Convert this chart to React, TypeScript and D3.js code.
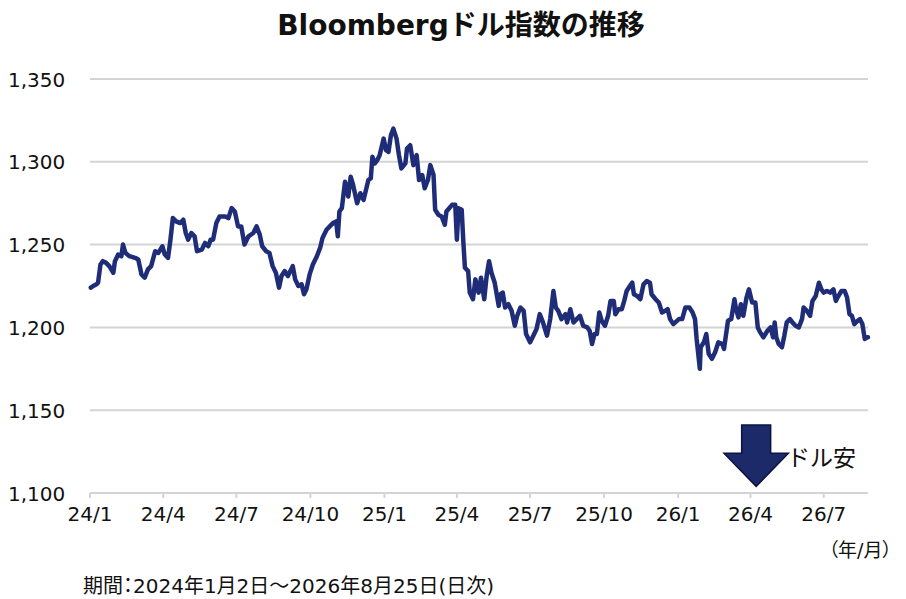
import React from "react";
import * as d3 from "d3";

const titleText = "Bloombergドル指数の推移";
const footnoteText = "期間：2024年1月2日～2026年8月25日(日次)";
const unitText = "（年/月）";
const arrowLabel = "ドル安";

const yTicks = [1100, 1150, 1200, 1250, 1300, 1350];
const xTickDates = ["2024-01-01","2024-04-01","2024-07-01","2024-10-01","2025-01-01","2025-04-01","2025-07-01","2025-10-01","2026-01-01","2026-04-01","2026-07-01"];
const xTickLabels = ["24/1","24/4","24/7","24/10","25/1","25/4","25/7","25/10","26/1","26/4","26/7"];
const xDomain = ["2024-01-01", "2026-08-25"];

const dates = [
"2024-01-02","2024-01-05","2024-01-09","2024-01-11","2024-01-14","2024-01-17","2024-01-21","2024-01-25","2024-01-30",
"2024-02-01","2024-02-05","2024-02-09","2024-02-11","2024-02-14","2024-02-19","2024-02-26",
"2024-03-01","2024-03-05","2024-03-09","2024-03-13","2024-03-17","2024-03-22","2024-03-26","2024-03-31",
"2024-04-03","2024-04-07","2024-04-10","2024-04-13","2024-04-17","2024-04-22","2024-04-26","2024-04-29",
"2024-05-02","2024-05-06","2024-05-10","2024-05-13","2024-05-19","2024-05-23","2024-05-27","2024-05-30",
"2024-06-02","2024-06-06","2024-06-10","2024-06-17","2024-06-21","2024-06-25","2024-06-29",
"2024-07-03","2024-07-07","2024-07-11","2024-07-16","2024-07-22","2024-07-26","2024-07-30",
"2024-08-02","2024-08-07","2024-08-11","2024-08-15","2024-08-19","2024-08-23","2024-08-26","2024-08-30",
"2024-09-03","2024-09-09","2024-09-12","2024-09-16","2024-09-20","2024-09-23","2024-09-26","2024-09-30",
"2024-10-04","2024-10-09","2024-10-13","2024-10-16","2024-10-21","2024-10-25","2024-10-29",
"2024-11-02","2024-11-04","2024-11-06","2024-11-09","2024-11-11","2024-11-13","2024-11-17","2024-11-20","2024-11-23","2024-11-28",
"2024-12-02","2024-12-06","2024-12-09","2024-12-12","2024-12-15","2024-12-17","2024-12-20","2024-12-23","2024-12-26","2024-12-31",
"2025-01-03","2025-01-06","2025-01-09","2025-01-12","2025-01-16","2025-01-19","2025-01-22","2025-01-27","2025-01-29",
"2025-02-02","2025-02-06","2025-02-10","2025-02-13","2025-02-17","2025-02-20","2025-02-24","2025-02-27",
"2025-03-03","2025-03-05","2025-03-09","2025-03-13","2025-03-17","2025-03-19","2025-03-26","2025-03-30",
"2025-04-01","2025-04-03","2025-04-07","2025-04-09","2025-04-11","2025-04-15","2025-04-17","2025-04-21","2025-04-24","2025-04-28",
"2025-05-01","2025-05-05","2025-05-08","2025-05-11","2025-05-14","2025-05-18","2025-05-23","2025-05-25","2025-05-28","2025-05-31",
"2025-06-04","2025-06-08","2025-06-12","2025-06-15","2025-06-19","2025-06-23","2025-06-26",
"2025-07-01","2025-07-05","2025-07-09","2025-07-13","2025-07-17","2025-07-22","2025-07-26","2025-07-30",
"2025-08-02","2025-08-05","2025-08-09","2025-08-14","2025-08-16","2025-08-20","2025-08-24","2025-08-28",
"2025-09-01","2025-09-05","2025-09-10","2025-09-13","2025-09-16","2025-09-19","2025-09-22","2025-09-25","2025-09-28",
"2025-10-02","2025-10-06","2025-10-09","2025-10-13","2025-10-15","2025-10-19","2025-10-23","2025-10-26","2025-10-29",
"2025-11-02","2025-11-05","2025-11-07","2025-11-11","2025-11-15","2025-11-19","2025-11-23","2025-11-27","2025-11-29",
"2025-12-04","2025-12-08","2025-12-12","2025-12-16","2025-12-19","2025-12-22","2025-12-26",
"2026-01-02","2026-01-06","2026-01-10","2026-01-15","2026-01-19","2026-01-22","2026-01-24","2026-01-28","2026-01-29",
"2026-02-02","2026-02-05","2026-02-08","2026-02-12","2026-02-16","2026-02-20","2026-02-25","2026-02-27",
"2026-03-04","2026-03-08","2026-03-12","2026-03-14","2026-03-17","2026-03-20","2026-03-23","2026-03-27","2026-03-30",
"2026-04-03","2026-04-07","2026-04-10","2026-04-13","2026-04-17","2026-04-22","2026-04-26","2026-04-29",
"2026-05-01","2026-05-03","2026-05-06","2026-05-10","2026-05-13","2026-05-16","2026-05-20","2026-05-23","2026-05-27","2026-05-31",
"2026-06-04","2026-06-06","2026-06-10","2026-06-14","2026-06-17","2026-06-21","2026-06-25","2026-06-28",
"2026-07-01","2026-07-05","2026-07-09","2026-07-13","2026-07-16","2026-07-18","2026-07-23","2026-07-27","2026-07-30",
"2026-08-02","2026-08-05","2026-08-08","2026-08-12","2026-08-15","2026-08-18","2026-08-21","2026-08-24","2026-08-25"
];

const values = [
1224,1225,1226,1227,1238,1240,1239,1237,1233,
1240,1244,1243,1250,1245,1243,1242,
1241,1232,1230,1235,1237,1246,1245,1249,
1244,1242,1253,1266,1264,1263,1265,1257,
1253,1257,1255,1246,1247,1251,1249,1253,
1253,1263,1267,1267,1266,1272,1270,
1261,1261,1250,1255,1257,1261,1256,
1249,1246,1245,1237,1233,1224,1231,1234,
1231,1237,1229,1225,1226,1220,1223,1232,
1238,1243,1248,1254,1259,1261,1263,
1264,1255,1270,1272,1280,1288,1279,1291,1286,1275,
1281,1277,1283,1289,1290,1303,1299,1301,1304,1314,
1307,1306,1316,1320,1314,1304,1296,1299,1308,
1310,1298,1304,1289,1292,1284,1289,1298,
1292,1271,1268,1267,1262,1270,1274,1274,
1253,1272,1271,1252,1236,1234,1221,1217,1229,1221,
1230,1217,1231,1240,1233,1227,1213,1220,1221,1212,
1214,1210,1201,1207,1212,1210,1196,
1191,1195,1199,1208,1203,1195,1205,1222,
1212,1210,1205,1208,1203,1211,1203,1205,
1207,1201,1200,1198,1190,1196,1196,1209,1204,
1201,1207,1216,1216,1208,1211,1211,1216,1222,
1225,1227,1220,1219,1217,1226,1228,1227,1220,
1217,1215,1209,1210,1211,1205,1202,
1205,1205,1212,1212,1209,1205,1193,1175,1188,
1191,1196,1184,1181,1185,1191,1190,1187,
1204,1205,1217,1211,1206,1214,1207,1218,1223,
1215,1215,1200,1197,1194,1198,1200,1194,
1203,1194,1190,1188,1195,1203,1205,1203,1201,1200,
1205,1212,1210,1207,1216,1219,1227,1223,
1221,1222,1221,1223,1216,1218,1222,1222,1218,
1208,1207,1202,1204,1205,1202,1193,1194,1194
];

// annotation arrow (in data units)
const arrowDate = "2026-04-08";
const arrowTop = 1141;
const arrowHeadStart = 1124;
const arrowTip = 1104;
const arrowShaftDays = 18;
const arrowHeadDays = 40;

const W = 906;
const H = 599;
const M = { left: 90, right: 868, top: 79, bottom: 493 };
const FONT = "'DejaVu Sans', 'Noto Sans CJK JP', sans-serif";
const LINE = "#1f2d78";
const GRID = "#d4d4d4";

export default function App() {
  const parse = d3.timeParse("%Y-%m-%d");
  const x = d3.scaleTime()
    .domain(xDomain.map((s) => parse(s) as Date))
    .range([M.left, M.right]);
  const y = d3.scaleLinear().domain([1100, 1350]).range([M.bottom, M.top]);

  const pts = dates.map((d, i) => ({ d: parse(d) as Date, v: values[i] }));
  const line = d3.line<{ d: Date; v: number }>()
    .x((p) => x(p.d))
    .y((p) => y(p.v));

  const fmt = d3.format(",");

  const ad = parse(arrowDate) as Date;
  const ax = x(ad);
  const sw = x(d3.timeDay.offset(ad, arrowShaftDays)) - ax;
  const hw = x(d3.timeDay.offset(ad, arrowHeadDays)) - ax;
  const arrowPath = [
    [ax - sw, y(arrowTop)],
    [ax + sw, y(arrowTop)],
    [ax + sw, y(arrowHeadStart)],
    [ax + hw, y(arrowHeadStart)],
    [ax, y(arrowTip)],
    [ax - hw, y(arrowHeadStart)],
    [ax - sw, y(arrowHeadStart)],
  ];
  const arrowD = "M" + arrowPath.map((p) => p.join(",")).join("L") + "Z";
  const palt = { fontFeatureSettings: "'palt'" } as React.CSSProperties;

  return (
    <div style={{ position: "absolute", left: 0, top: 0, width: W, height: H, background: "#fff" }}>
      <svg width={W} height={H} style={{ display: "block" }} fontFamily={FONT}>
        <rect x={0} y={0} width={W} height={H} fill="#fff" />
        <text x={461} y={35} textAnchor="middle" fontSize={28} fontWeight={700} fill="#111">
          {titleText}
        </text>
        {yTicks.map((t) => (
          <g key={t}>
            <line x1={M.left} x2={M.right} y1={y(t)} y2={y(t)} stroke={GRID} strokeWidth={2} />
            <text x={8} y={y(t) + 7.5} fontSize={20} fill="#111">
              {fmt(t)}
            </text>
          </g>
        ))}
        {xTickDates.map((s, i) => {
          const xx = x(parse(s) as Date);
          return (
            <g key={s}>
              <line x1={xx} x2={xx} y1={M.bottom} y2={M.bottom + 5} stroke={GRID} strokeWidth={2} />
              <text x={xx} y={521} textAnchor="middle" fontSize={20} fill="#111">
                {xTickLabels[i]}
              </text>
            </g>
          );
        })}
        <path d={line(pts) || ""} fill="none" stroke={LINE} strokeWidth={4.5} strokeLinejoin="round" strokeLinecap="round" />
        <path d={arrowD} fill="#1c2a6a" stroke="#0b1440" strokeWidth={1.5} />
        <text x={787} y={466} fontSize={23} fill="#111" fontFamily="'Noto Sans CJK JP', sans-serif">{arrowLabel}</text>
        <text x={892} y={557} textAnchor="end" fontSize={19} fill="#111" style={palt}>{unitText}</text>
        <text x={83} y={593} fontSize={20} fill="#111" style={palt}>{footnoteText}</text>
      </svg>
    </div>
  );
}
